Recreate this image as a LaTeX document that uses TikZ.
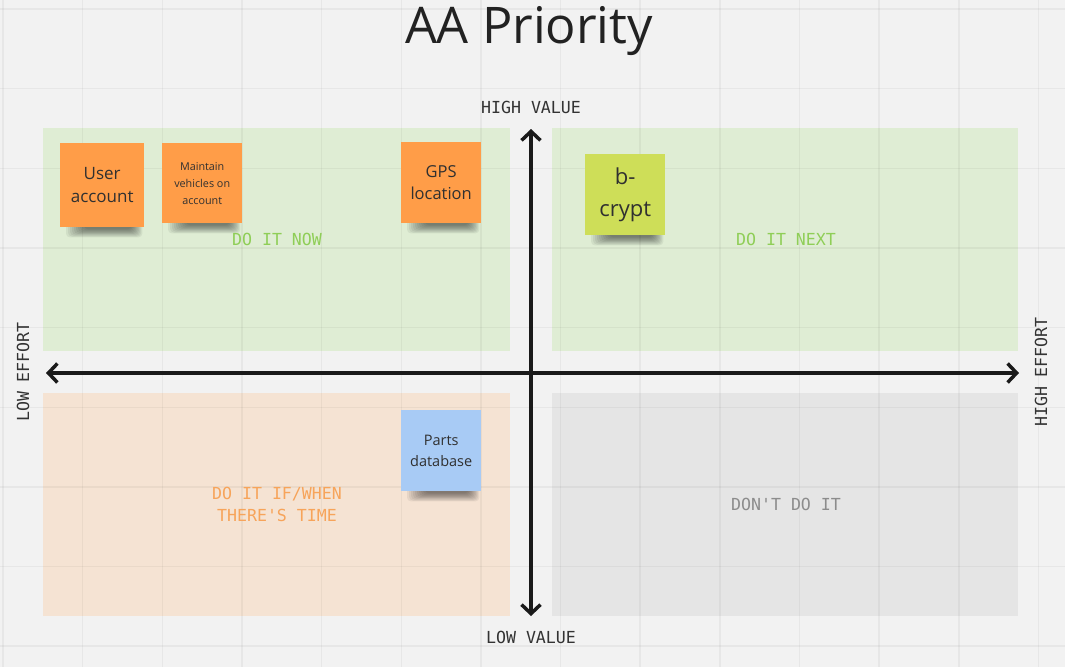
\documentclass[tikz,border=0pt]{standalone}
\usepackage{fontspec}
\setmainfont{Open Sans}
\newfontfamily\monof{DejaVu Sans Mono}
\usetikzlibrary{arrows.meta,calc}
\definecolor{bgc}{RGB}{242,242,242}
\definecolor{greenq}{RGB}{223,237,212}
\definecolor{orangeq}{RGB}{245,227,211}
\definecolor{grayq}{RGB}{229,229,229}
\definecolor{greenlab}{RGB}{143,206,87}
\definecolor{orangelab}{RGB}{247,164,90}
\definecolor{graylab}{RGB}{140,140,140}
\definecolor{axislab}{RGB}{51,51,51}
\definecolor{axisc}{RGB}{26,26,26}
\definecolor{stickor}{RGB}{255,157,72}
\definecolor{stickyg}{RGB}{206,222,88}
\definecolor{stickbl}{RGB}{168,203,245}
\definecolor{stickytxt}{RGB}{48,48,48}
\definecolor{titlec}{RGB}{34,34,34}
\pgfdeclarelayer{background}
\pgfdeclarelayer{shadow}
\pgfsetlayers{background,shadow,main}
\tikzset{
  quad/.style={inner sep=0pt, anchor=north west, minimum width=467pt, minimum height=223pt},
  quadlab/.style={font=\monof\fontsize{16.6}{22}\selectfont, align=center, inner sep=0pt},
  axislabel/.style={font=\monof\fontsize{16.6}{20}\selectfont, text=axislab, inner sep=0pt},
  sticky/.style={inner sep=0pt, anchor=north west, minimum width=81pt, minimum height=81pt, align=center, text=stickytxt},
  axisline/.style={draw=axisc, line width=3.5pt, {Straight Barb[length=9pt,width=19pt]}-{Straight Barb[length=9pt,width=19pt]}},
  gridline/.style={draw=black, opacity=0.045, line width=1.5pt}
}
\newcommand\stickyshadow[1]{%
  \begin{pgfonlayer}{shadow}
  \foreach \k in {0,...,9} {
    \fill[black, opacity=0.06, rounded corners=4pt]
      ($(#1.south west)+(6+2*\k,-4)$) rectangle ($(#1.south east)+(-2-1.2*\k,10-0.9*\k)$);
  }
  \end{pgfonlayer}}
\begin{document}
\begin{tikzpicture}[x=1pt,y=-1pt]
\useasboundingbox (0,0) rectangle (1065,667);
\begin{pgfonlayer}{background}
\fill[bgc] (0,0) rectangle (1065,667);
\node[quad, fill=greenq] (q1) at (43,128) {};
\node[quad, fill=greenq, minimum width=466pt] (q2) at (552,128) {};
\node[quad, fill=orangeq] (q3) at (43,393) {};
\node[quad, fill=grayq, minimum width=466pt] (q4) at (552,393) {};
\foreach \i in {0,...,13} { \draw[gridline] (3+79.65*\i,0) -- (3+79.65*\i,667); }
\foreach \j in {0,...,8} { \draw[gridline] (0,9+79.65*\j) -- (1065,9+79.65*\j); }
\end{pgfonlayer}

% title
\node[font=\fontsize{50.5}{60}\selectfont, text=titlec, inner sep=0pt] (title) at (529,31) {AA Priority};

% quadrant labels
\node[quadlab, text=greenlab] (lnow) at (277,239) {DO IT NOW};
\node[quadlab, text=greenlab] (lnext) at (786,239) {DO IT NEXT};
\node[quadlab, text=orangelab] (lif) at (277,504) {DO IT IF/WHEN\\THERE'S TIME};
\node[quadlab, text=graylab] (ldont) at (786,504) {DON'T DO IT};

% axes
\coordinate (hl) at (46,373);
\coordinate (hr) at (1019,373);
\coordinate (vt) at (531,129);
\coordinate (vb) at (531,616);
\draw[axisline] (hl) -- (hr);
\draw[axisline] (vt) -- (vb);

% axis labels
\node[axislabel] (hv) at (531,107) {HIGH VALUE};
\node[axislabel] (lv) at (531,637) {LOW VALUE};
\node[axislabel, rotate=90] (le) at (23,372) {LOW EFFORT};
\node[axislabel, rotate=90] (he) at (1041,372) {HIGH EFFORT};

% stickies
\node[sticky, fill=stickor, minimum width=84pt, minimum height=84pt, font=\fontsize{17}{23.5}\selectfont] (s1) at (60,143) {User\\account};
\stickyshadow{s1}
\node[sticky, fill=stickor, minimum width=80pt, minimum height=80pt, font=\fontsize{10.8}{17}\selectfont] (s2) at (162,143) {Maintain\\vehicles on\\account};
\stickyshadow{s2}
\node[sticky, fill=stickor, minimum width=80pt, font=\fontsize{16.5}{22.5}\selectfont] (s3) at (401,142) {GPS\\location};
\stickyshadow{s3}
\node[sticky, fill=stickyg, minimum width=80pt, font=\fontsize{22}{32}\selectfont] (s4) at (585,154) {b-\\crypt};
\stickyshadow{s4}
\node[sticky, fill=stickbl, minimum width=80pt, font=\fontsize{14.5}{21}\selectfont] (s5) at (401,410) {Parts\\database};
\stickyshadow{s5}
\end{tikzpicture}
\end{document}
